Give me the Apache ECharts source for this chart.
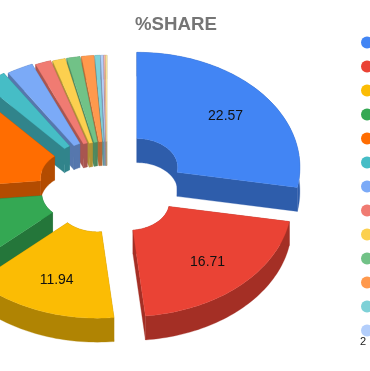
<!DOCTYPE html>
<html><head><meta charset="utf-8">
<style>html,body{margin:0;padding:0;background:#fff;overflow:hidden}#c{width:370px;height:371px}</style>
<script src="https://cdn.jsdelivr.net/npm/echarts@6/dist/echarts.min.js"></script></head>
<body><div id="c"></div>
<script>
const names=["A","B","C","D","E","F","G","H","I","J","K","L","M","N","O"];
const values=[22.57,16.71,11.94,8.4,12.28,1.98,2.14,1.26,1.02,1.06,0.97,0.43,0.23,0.12,0.1];
const labels=["22.57","16.71","11.94"];
const colors=["#4285F4","#EA4335","#FBBC04","#34A853","#FF6D01","#46BDC6","#7BAAF7","#F07B72","#FCD04F","#71C287","#FF994D","#7ED1D7","#B3CEFB","#F7B4AE","#FDE49B"];
const explode=[39,32,27.5,27,27.5,26,24,22,21,21,21,21,21,21,21];
const legendCount=13;
const C={x:107,y:185,rx:163,ry:115,inner:0.25,depth:24,k:0.705};
const total=values.reduce((a,b)=>a+b,0);
const rad=Math.PI/180;
let cum=0;
const slices=values.map((v,i)=>{const a0=cum/total*360;cum+=v;const a1=cum/total*360;const m=(a0+a1)/2;
  return {a0,a1,m,ax:C.x+explode[i]*Math.sin(m*rad),ay:C.y-explode[i]*C.k*Math.cos(m*rad)};});
function darken(h,f){const n=parseInt(h.slice(1),16);const c=s=>Math.round(((n>>s)&255)*f);return `rgb(${c(16)},${c(8)},${c(0)})`;}
function arc(s,r,a0,a1,dy){const n=Math.max(2,Math.ceil((a1-a0)/1.5));const pts=[];
  for(let j=0;j<=n;j++){const a=(a0+(a1-a0)*j/n)*rad;pts.push([s.ax+r*C.rx*Math.sin(a),s.ay-r*C.ry*Math.cos(a)+dy]);}return pts;}
function poly(points,fill){return {type:'polygon',silent:true,shape:{points},style:{fill,stroke:fill,lineWidth:0.3}};}
function renderSlice(i){const s=slices[i];
  const o=arc(s,1,s.a0,s.a1,0),n=arc(s,C.inner,s.a0,s.a1,0);
  const od=arc(s,1,s.a0,s.a1,C.depth),nd=arc(s,C.inner,s.a0,s.a1,C.depth);
  const wall=darken(colors[i],0.7);
  const kids=[
    poly(o.concat(od.slice().reverse()),wall),
    poly(n.concat(nd.slice().reverse()),wall),
    poly([o[0],n[0],nd[0],od[0]],wall),
    poly([o[o.length-1],n[n.length-1],nd[nd.length-1],od[od.length-1]],wall),
    poly(o.concat(n.slice().reverse()),colors[i])
  ];
  if(labels[i]){const a=s.m*rad;kids.push({type:'text',silent:true,style:{text:labels[i],x:s.ax+0.71*C.rx*Math.sin(a),y:s.ay-0.71*C.ry*Math.cos(a)+1,textAlign:'center',textVerticalAlign:'middle',verticalAlign:'middle',fill:'#111',font:'14px "Liberation Sans",Arial,sans-serif'}});}
  return {type:'group',children:kids};
}
const series=values.map((v,i)=>({name:names[i],type:'custom',coordinateSystem:'none',data:[[v]],
  z:2+Math.round((1-Math.cos(slices[i].m*rad))*100),itemStyle:{color:colors[i]},animation:false,silent:true,
  renderItem:()=>renderSlice(i)}));
const chart=echarts.init(document.getElementById('c'),null,{renderer:'canvas'});
chart.setOption({animation:false,backgroundColor:'#fff',
  title:{text:'%SHARE',left:135,top:15,padding:0,textStyle:{fontFamily:'"Liberation Sans",Arial,sans-serif',fontSize:18.67,fontWeight:'bold',color:'#757575'}},
  legend:{data:names.slice(0,legendCount),orient:'vertical',left:361,top:36,padding:0,icon:'circle',itemWidth:12,itemHeight:12,itemGap:11,selectedMode:false,textStyle:{fontSize:13,color:'#222'}},
  graphic:[{type:'text',left:360,top:336,silent:true,style:{text:'2',fill:'#222',font:'11px "Liberation Sans",Arial,sans-serif'}}],
  series});
</script></body></html>
